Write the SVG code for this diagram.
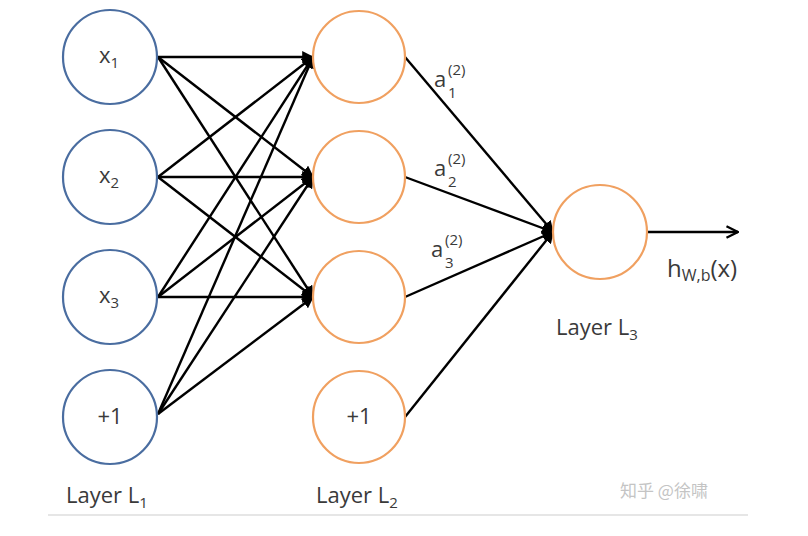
<svg xmlns="http://www.w3.org/2000/svg" width="808" height="536" viewBox="0 0 808 536">
<style>
.l1{fill:#fff;stroke:#4a6da0;stroke-width:2.2}
.l2{fill:#fff;stroke:#f0a060;stroke-width:2.2}
.e{stroke:#000;stroke-width:2.4;fill:none}
.t{font-family:"Open Sans","Liberation Sans",sans-serif;fill:#3a3a3a;font-size:22px}
.s{font-size:15px}
.wm{font-family:"Noto Sans CJK SC",sans-serif;fill:#c4c4c4;font-size:17px}
</style>
<defs>
<marker id="ah" viewBox="0 0 10 10" refX="9" refY="5" markerWidth="5" markerHeight="5" orient="auto" markerUnits="strokeWidth">
<path d="M0,0 L10,5 L0,10 z" fill="#000"/>
</marker>
<marker id="oa" viewBox="0 0 10 10" refX="9" refY="5" markerWidth="6" markerHeight="6" orient="auto" markerUnits="strokeWidth">
<path d="M1,1 L9,5 L1,9" fill="none" stroke="#000" stroke-width="1.6"/>
</marker>
</defs>
<rect width="808" height="536" fill="#fff"/>
<g id="edges">
<line class="e" x1="158" y1="57" x2="313" y2="57" marker-end="url(#ah)"/>
<line class="e" x1="158" y1="57" x2="313" y2="177" marker-end="url(#ah)"/>
<line class="e" x1="158" y1="57" x2="313" y2="297" marker-end="url(#ah)"/>
<line class="e" x1="158" y1="177" x2="313" y2="57" marker-end="url(#ah)"/>
<line class="e" x1="158" y1="177" x2="313" y2="177" marker-end="url(#ah)"/>
<line class="e" x1="158" y1="177" x2="313" y2="297" marker-end="url(#ah)"/>
<line class="e" x1="158" y1="297" x2="313" y2="57" marker-end="url(#ah)"/>
<line class="e" x1="158" y1="297" x2="313" y2="177" marker-end="url(#ah)"/>
<line class="e" x1="158" y1="297" x2="313" y2="297" marker-end="url(#ah)"/>
<line class="e" x1="158" y1="414" x2="313" y2="57" marker-end="url(#ah)"/>
<line class="e" x1="158" y1="414" x2="313" y2="177" marker-end="url(#ah)"/>
<line class="e" x1="158" y1="414" x2="313" y2="297" marker-end="url(#ah)"/>
<line class="e" x1="405" y1="57" x2="553" y2="232" marker-end="url(#ah)"/>
<line class="e" x1="405" y1="177" x2="553" y2="232" marker-end="url(#ah)"/>
<line class="e" x1="405" y1="297" x2="553" y2="232" marker-end="url(#ah)"/>
<line class="e" x1="405" y1="417" x2="553" y2="232" marker-end="url(#ah)"/>
<line class="e" x1="648" y1="232" x2="738" y2="232" marker-end="url(#oa)"/>
</g>
<g id="x1"><circle class="l1" cx="110" cy="57" r="47"/><text class="t" x="99" y="63">x<tspan class="s" dy="5">1</tspan></text></g>
<g id="x2"><circle class="l1" cx="110" cy="177" r="47"/><text class="t" x="99" y="183">x<tspan class="s" dy="5">2</tspan></text></g>
<g id="x3"><circle class="l1" cx="110" cy="297" r="47"/><text class="t" x="99" y="303">x<tspan class="s" dy="5">3</tspan></text></g>
<g id="b1"><circle class="l1" cx="110" cy="417" r="47"/><text class="t" x="110" y="424" text-anchor="middle">+1</text></g>
<g id="h1"><circle class="l2" cx="359" cy="57" r="46"/></g>
<g id="h2"><circle class="l2" cx="359" cy="177" r="46"/></g>
<g id="h3"><circle class="l2" cx="359" cy="297" r="46"/></g>
<g id="b2"><circle class="l2" cx="359" cy="417" r="46"/><text class="t" x="359" y="424" text-anchor="middle">+1</text></g>
<g id="out"><circle class="l2" cx="600" cy="232" r="47"/></g>
<g id="labels">
<text class="t" x="434" y="87">a</text><text class="t s" x="448" y="75">(2)</text><text class="t s" x="448" y="98">1</text>
<text class="t" x="434" y="176">a</text><text class="t s" x="448" y="164">(2)</text><text class="t s" x="448" y="187">2</text>
<text class="t" x="431" y="257">a</text><text class="t s" x="445" y="245">(2)</text><text class="t s" x="445" y="268">3</text>
<text class="t" x="667" y="277" style="font-size:24px">h<tspan style="font-size:16px" dy="4">W,b</tspan><tspan dy="-4">(x)</tspan></text>
<text class="t" x="556" y="335">Layer L<tspan class="s" dy="5">3</tspan></text>
<text class="t" x="66" y="503">Layer L<tspan class="s" dy="5">1</tspan></text>
<text class="t" x="316" y="503">Layer L<tspan class="s" dy="5">2</tspan></text>
</g>
<line x1="48" y1="515" x2="748" y2="515" stroke="#e6e6e6" stroke-width="2"/>
<text class="wm" x="620" y="497">知乎 @徐啸</text>
</svg>
